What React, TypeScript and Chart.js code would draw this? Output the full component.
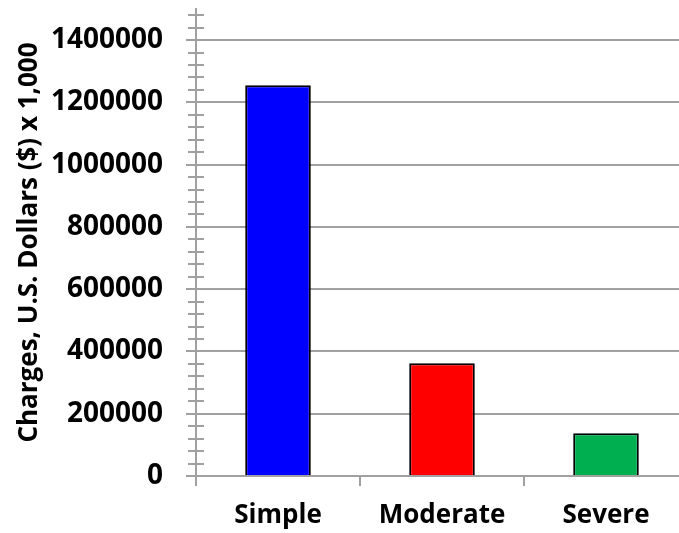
import React, { useEffect, useRef } from "react";
import { Chart, registerables } from "chart.js";

Chart.register(...registerables);

const categories = ["Simple", "Moderate", "Severe"];
const charges = [1255000, 362000, 137000];
const barColors = ["#0000ff", "#ff0000", "#00b050"];
const yMax = 1500000;
const majorStep = 200000;
const minorStep = 40000;
const tickStep = 20000;
const yLabelMax = 1400000;
const yTitle = "Charges, U.S. Dollars ($) x 1,000";

const GRID = "#a0a0a0";
const FONT = "'Open Sans', 'DejaVu Sans', sans-serif";

const isMultiple = (v: number, step: number) => {
  const r = v / step;
  return Math.abs(r - Math.round(r)) < 1e-6;
};
const isMajor = (v: number) => isMultiple(v, majorStep) && v <= yLabelMax + 1;
const isMinor = (v: number) => isMultiple(v, minorStep) && !isMajor(v) && v < yMax - 1;

const minorTicksPlugin = {
  id: "minorTicks",
  afterDraw(chart: any) {
    const y = chart.scales.y;
    const ctx = chart.ctx;
    const ax = chart.chartArea.left;
    ctx.save();
    ctx.strokeStyle = GRID;
    ctx.lineWidth = 2;
    y.ticks.forEach((t: any) => {
      if (!isMinor(t.value)) return;
      const py = Math.round(y.getPixelForValue(t.value));
      ctx.beginPath();
      ctx.moveTo(ax - 8, py);
      ctx.lineTo(ax + 8, py);
      ctx.stroke();
    });
    ctx.restore();
  },
};

export default function App() {
  const ref = useRef<HTMLCanvasElement | null>(null);
  useEffect(() => {
    if (!ref.current) return;
    const chart = new Chart(ref.current, {
      type: "bar",
      data: {
        labels: categories,
        datasets: [
          {
            data: charges,
            backgroundColor: barColors,
            borderColor: "#000000",
            borderWidth: 2,
            barPercentage: 0.4,
            categoryPercentage: 1,
          },
        ],
      },
      options: {
        responsive: false,
        animation: false,
        devicePixelRatio: 1,
        layout: { padding: { left: 0, top: 9, right: 12, bottom: 0 } },
        plugins: { legend: { display: false }, tooltip: { enabled: false } },
        scales: {
          x: {
            grid: {
              offset: true,
              drawOnChartArea: false,
              tickLength: 10,
              color: GRID,
              lineWidth: 2,
            },
            border: { color: GRID, width: 2 },
            ticks: {
              color: "#000000",
              font: { family: FONT, size: 26, weight: "bold" },
              padding: 14,
            },
            afterFit(scale: any) {
              scale.height = 57;
              scale.paddingLeft = 0;
              scale.paddingRight = 0;
            },
          },
          y: {
            min: 0,
            max: yMax,
            grid: {
              color: (c: any) => (c.tick && isMajor(c.tick.value) ? GRID : "rgba(0,0,0,0)"),
              tickColor: (c: any) => (c.tick && isMajor(c.tick.value) ? GRID : "rgba(0,0,0,0)"),
              tickLength: 10,
              lineWidth: 2,
            },
            border: { color: GRID, width: 2 },
            ticks: {
              stepSize: tickStep,
              autoSkip: false,
              color: "#000000",
              padding: 23,
              font: { family: FONT, size: 28, weight: "bold" },
              callback: (v: any) => (isMajor(Number(v)) ? String(Math.round(Number(v))) : ""),
            },
            title: {
              display: true,
              text: yTitle,
              color: "#000000",
              font: { family: FONT, size: 26, weight: "bold" },
              padding: { top: 14, bottom: 0 },
            },
            afterFit(scale: any) {
              scale.width = 196;
              scale.paddingTop = 0;
              scale.paddingBottom = 0;
            },
          },
        },
      },
      plugins: [minorTicksPlugin],
    });
    return () => chart.destroy();
  }, []);
  return (
    <div
      style={{
        position: "fixed",
        left: 0,
        top: 0,
        width: 679,
        height: 533,
        overflow: "hidden",
        background: "#ffffff",
      }}
    >
      <canvas
        ref={ref}
        width={700}
        height={533}
        style={{ position: "absolute", left: 0, top: 0, width: 700, height: 533 }}
      />
    </div>
  );
}
